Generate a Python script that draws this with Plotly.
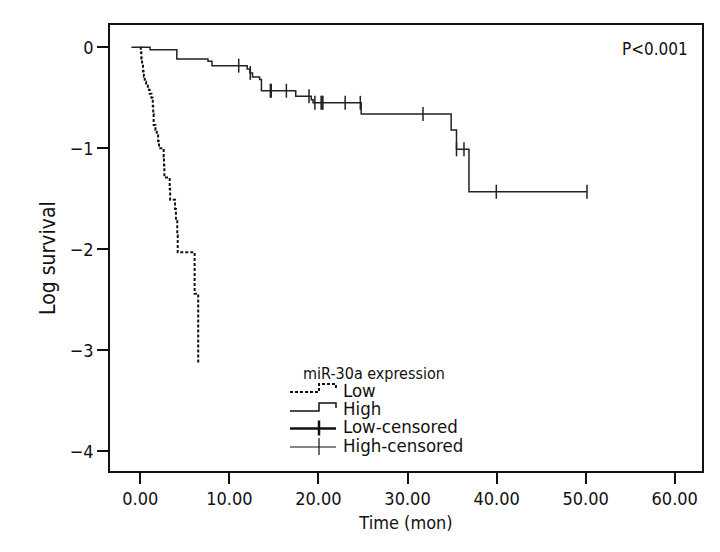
import plotly.graph_objects as go

# ---------------- data ----------------
low_time = [0, 0.05, 0.12, 0.2, 0.3, 0.4, 0.5, 0.65, 0.85, 1.05, 1.25, 1.4, 1.45, 1.5,
            1.7, 1.85, 2.0, 2.1, 2.62, 2.66, 2.7, 3.3, 3.35, 3.9, 4.0, 4.15, 4.2, 6.1, 6.5]
low_logsurv = [0, -0.05, -0.11, -0.17, -0.24, -0.29, -0.34, -0.38, -0.42, -0.46, -0.50,
               -0.58, -0.66, -0.77, -0.82, -0.87, -0.93, -1.0, -1.08, -1.17, -1.29, -1.40,
               -1.51, -1.6, -1.72, -1.86, -2.03, -2.44, -3.14]

high_time = [-1.0, 1.1, 4.1, 7.6, 8.05, 12.0, 12.3, 12.6, 13.4, 13.6, 17.45, 19.2, 19.4,
             24.8, 34.9, 35.5, 36.9, 50.15]
high_logsurv = [0, -0.024, -0.116, -0.139, -0.182, -0.215, -0.254, -0.294, -0.32, -0.43,
                -0.485, -0.52, -0.55, -0.66, -0.82, -1.01, -1.43, -1.43]

high_cens_time = [11.05, 12.35, 14.6, 14.7, 16.4, 18.94, 19.6, 20.3, 20.4, 20.5, 23.0,
                  24.7, 31.74, 35.5, 36.34, 39.97, 50.15]
high_cens_logsurv = [-0.182, -0.254, -0.43, -0.43, -0.43, -0.485, -0.55, -0.55, -0.55,
                     -0.55, -0.55, -0.55, -0.66, -1.01, -1.01, -1.43, -1.43]

x_ticks = [0, 10, 20, 30, 40, 50, 60]
y_ticks = [0, -1, -2, -3, -4]

legend_title = "miR-30a expression"
legend_labels = ["Low", "High", "Low-censored", "High-censored"]
p_text = "P<0.001"
x_title = "Time (mon)"
y_title = "Log survival"

# ---------------- figure ----------------
FONT = "DejaVu Sans Condensed, DejaVu Sans, sans-serif"
INK = "#111111"

W, H = 720, 552
ML, MR, MT, MB = 102, 26, 17, 89
PW, PH = W - ML - MR, H - MT - MB


def px(x):
    return (x - ML) / PW


def py(y):
    return (H - MB - y) / PH


fig = go.Figure()

fig.add_trace(go.Scatter(x=low_time, y=low_logsurv, mode="lines", line_shape="hv",
                         line=dict(color=INK, width=2, dash="3px,2px"),
                         showlegend=False, hoverinfo="skip"))
fig.add_trace(go.Scatter(x=high_time, y=high_logsurv, mode="lines", line_shape="hv",
                         line=dict(color="#222222", width=1.5),
                         showlegend=False, hoverinfo="skip"))
fig.add_trace(go.Scatter(x=high_cens_time, y=high_cens_logsurv, mode="markers",
                         marker=dict(symbol="line-ns", size=10,
                                     line=dict(color="#222222", width=1.5)),
                         showlegend=False, hoverinfo="skip"))

# ---------------- manual SPSS-like legend ----------------
row_y = [382, 400, 418.5, 437]
title_y = 365.5
gx0, gxm, gx1 = 282, 311, 328
shapes = []
# Low (dotted step)
r = row_y[0]
shapes.append(dict(type="path", xref="paper", yref="paper",
                   path=f"M {px(gx0)} {py(r + 2)} L {px(gxm)} {py(r + 2)} L {px(gxm)} {py(r - 6)} "
                        f"L {px(gx1)} {py(r - 6)} L {px(gx1)} {py(r - 2)}",
                   line=dict(color=INK, width=2, dash="3px,2px")))
# High (solid step)
r = row_y[1]
shapes.append(dict(type="path", xref="paper", yref="paper",
                   path=f"M {px(gx0)} {py(r + 3)} L {px(gxm)} {py(r + 3)} L {px(gxm)} {py(r - 5)} "
                        f"L {px(gx1)} {py(r - 5)} L {px(gx1)} {py(r)}",
                   line=dict(color=INK, width=1.5)))
# Low-censored (thick cross)
r = row_y[2]
shapes.append(dict(type="line", xref="paper", yref="paper",
                   x0=px(gx0), x1=px(gx1), y0=py(r + 2), y1=py(r + 2),
                   line=dict(color=INK, width=2.5)))
shapes.append(dict(type="line", xref="paper", yref="paper",
                   x0=px(gxm), x1=px(gxm), y0=py(r - 6), y1=py(r + 9),
                   line=dict(color=INK, width=2.5)))
# High-censored (thin cross)
r = row_y[3]
shapes.append(dict(type="line", xref="paper", yref="paper",
                   x0=px(gx0), x1=px(gx1), y0=py(r + 2), y1=py(r + 2),
                   line=dict(color=INK, width=1.2)))
shapes.append(dict(type="line", xref="paper", yref="paper",
                   x0=px(gxm), x1=px(gxm), y0=py(r - 7), y1=py(r + 10),
                   line=dict(color=INK, width=1.2)))

annotations = []
annotations.append(dict(text=legend_title, xref="paper", yref="paper",
                        x=px(293), y=py(title_y), xanchor="left", yanchor="middle",
                        showarrow=False, font=dict(family=FONT, size=16, color=INK)))
for lab, yy in zip(legend_labels, row_y):
    annotations.append(dict(text=lab, xref="paper", yref="paper",
                            x=px(333), y=py(yy), xanchor="left", yanchor="middle",
                            showarrow=False, font=dict(family=FONT, size=18.5, color=INK)))
annotations.append(dict(text=p_text, xref="paper", yref="paper",
                        x=px(682), y=py(41), xanchor="right", yanchor="middle",
                        showarrow=False, font=dict(family=FONT, size=17, color=INK)))
# y-axis title (placed like the reference, slightly below the axis centre)
annotations.append(dict(text=y_title, xref="paper", yref="paper",
                        x=px(40), y=py(250), xanchor="center", yanchor="middle",
                        textangle=-90, showarrow=False,
                        font=dict(family=FONT, size=21, color=INK)))

x0_px = 132.3
x_scale = 8.907
y0_px = 39.3
y_scale = 101.0
x_range = [(ML - x0_px) / x_scale, (ML + PW - x0_px) / x_scale]
y_range = [-(H - MB - y0_px) / y_scale, (y0_px - MT) / y_scale]

fig.update_layout(
    width=W, height=H,
    margin=dict(l=ML, r=MR, t=MT, b=MB, pad=0),
    paper_bgcolor="white", plot_bgcolor="white",
    font=dict(family=FONT, size=18, color=INK),
    shapes=shapes, annotations=annotations,
    showlegend=False,
    xaxis=dict(range=x_range, tickvals=x_ticks, tickformat=".2f",
               showgrid=False, zeroline=False,
               showline=True, linecolor=INK, linewidth=1.5, mirror=True,
               ticks="outside", ticklen=11, tickwidth=1.5, tickcolor=INK,
               title=dict(text=x_title, standoff=8,
                          font=dict(family=FONT, size=18, color=INK)),
               tickfont=dict(family=FONT, size=18, color=INK)),
    yaxis=dict(range=y_range, tickvals=y_ticks,
               showgrid=False, zeroline=False,
               showline=True, linecolor=INK, linewidth=1.5, mirror=True,
               ticks="outside", ticklen=11, tickwidth=1.5, tickcolor=INK,
               tickfont=dict(family=FONT, size=18, color=INK)),
)

fig.write_html("out.html")
